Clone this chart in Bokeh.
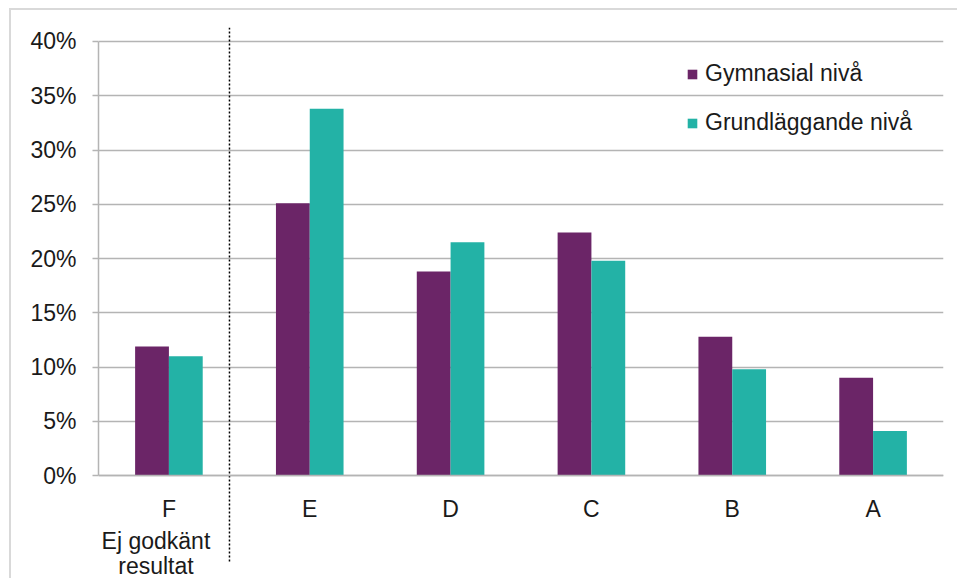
from bokeh.plotting import figure
from bokeh.models import (FactorRange, Range1d, FixedTicker, NumeralTickFormatter,
                          ColumnDataSource, Legend, LegendItem)
from bokeh.transform import dodge
from bokeh.core.properties import value
from bokeh.embed import file_html
from bokeh.resources import INLINE

# ---- data ----
categories = ["F", "E", "D", "C", "B", "A"]
gymnasial = [0.119, 0.251, 0.188, 0.224, 0.128, 0.090]
grundlaggande = [0.110, 0.338, 0.215, 0.198, 0.098, 0.041]
series_names = ["Gymnasial nivå", "Grundläggande nivå"]
y_ticks = [0.0, 0.05, 0.10, 0.15, 0.20, 0.25, 0.30, 0.35, 0.40]
note_category = "F"
note_lines = ["Ej godkänt", "resultat"]
separator_after = ["F"]

PURPLE = "#6B2567"
TEAL = "#23B2A6"
GRID = "#b4b4b4"
FONT = "Liberation Sans"
FS = "23px"
TXT = "#1a1a1a"

src = ColumnDataSource(dict(cat=categories, g=gymnasial, b=grundlaggande))

p = figure(width=957, height=578, output_backend="svg", toolbar_location=None,
           x_range=FactorRange(*categories, range_padding=0),
           y_range=Range1d(-0.0949, 0.4129),
           min_border_left=98, min_border_right=14, min_border_top=27, min_border_bottom=0)
p.outline_line_color = None
p.border_fill_alpha = 0
p.background_fill_color = "white"
p.styles = {"box-shadow": "inset 9px 8px 0 0 white, inset 11px 10px 0 0 #d9d9d9"}

r1 = p.vbar(x=dodge("cat", -0.12, range=p.x_range), top="g", width=0.24, source=src,
            fill_color=PURPLE, line_color=None)
r2 = p.vbar(x=dodge("cat", 0.12, range=p.x_range), top="b", width=0.24, source=src,
            fill_color=TEAL, line_color=None)

# separator dotted line
sep = ColumnDataSource(dict(x=separator_after))
p.segment(x0=dodge("x", 0.43, range=p.x_range), y0=0.4129,
          x1=dodge("x", 0.43, range=p.x_range), y1=-0.0802, source=sep,
          line_color="black", line_width=1.5, line_dash="2 2")

# extra label under F (two lines)
LINE_Y = [-0.0608, -0.0838]
for line, yy in zip(note_lines, LINE_Y):
    note = ColumnDataSource(dict(x=[note_category], t=[line]))
    p.text(x=dodge("x", -0.092, range=p.x_range), y=yy, text="t", source=note,
           text_font=value(FONT), text_font_size=FS, text_align="center",
           text_baseline="alphabetic", text_color=TXT)

# y axis
yax = p.yaxis[0]
yax.ticker = FixedTicker(ticks=y_ticks)
yax.formatter = NumeralTickFormatter(format="0%")
yax.bounds = (0, 0.4)
yax.axis_line_color = GRID
yax.axis_line_width = 1.5
yax.major_tick_line_color = GRID
yax.major_tick_line_width = 1.5
yax.major_tick_out = 6
yax.major_tick_in = 0
yax.minor_tick_line_color = None
yax.major_label_standoff = 16
yax.major_label_text_font = FONT
yax.major_label_text_font_size = FS
yax.major_label_text_color = TXT

# x axis at zero
xax = p.xaxis[0]
xax.fixed_location = 0
xax.axis_line_color = GRID
xax.axis_line_width = 1.5
xax.major_tick_line_color = None
xax.minor_tick_line_color = None
xax.major_label_standoff = 14
xax.major_label_text_font = FONT
xax.major_label_text_font_size = FS
xax.major_label_text_color = TXT

p.xgrid.grid_line_color = None
p.ygrid.ticker = FixedTicker(ticks=y_ticks)
p.ygrid.bounds = (0, 0.4)
p.ygrid.grid_line_color = GRID
p.ygrid.grid_line_width = 1.5

legend = Legend(items=[LegendItem(label=series_names[0], renderers=[r1]),
                       LegendItem(label=series_names[1], renderers=[r2])],
                location=(588, 442), padding=0, margin=0, spacing=22,
                glyph_width=12, glyph_height=12, label_standoff=7,
                label_text_font=FONT, label_text_font_size=FS,
                label_text_color=TXT,
                border_line_color=None, background_fill_alpha=0)
p.add_layout(legend, "center")

open("out.html", "w").write(file_html(p, INLINE))
